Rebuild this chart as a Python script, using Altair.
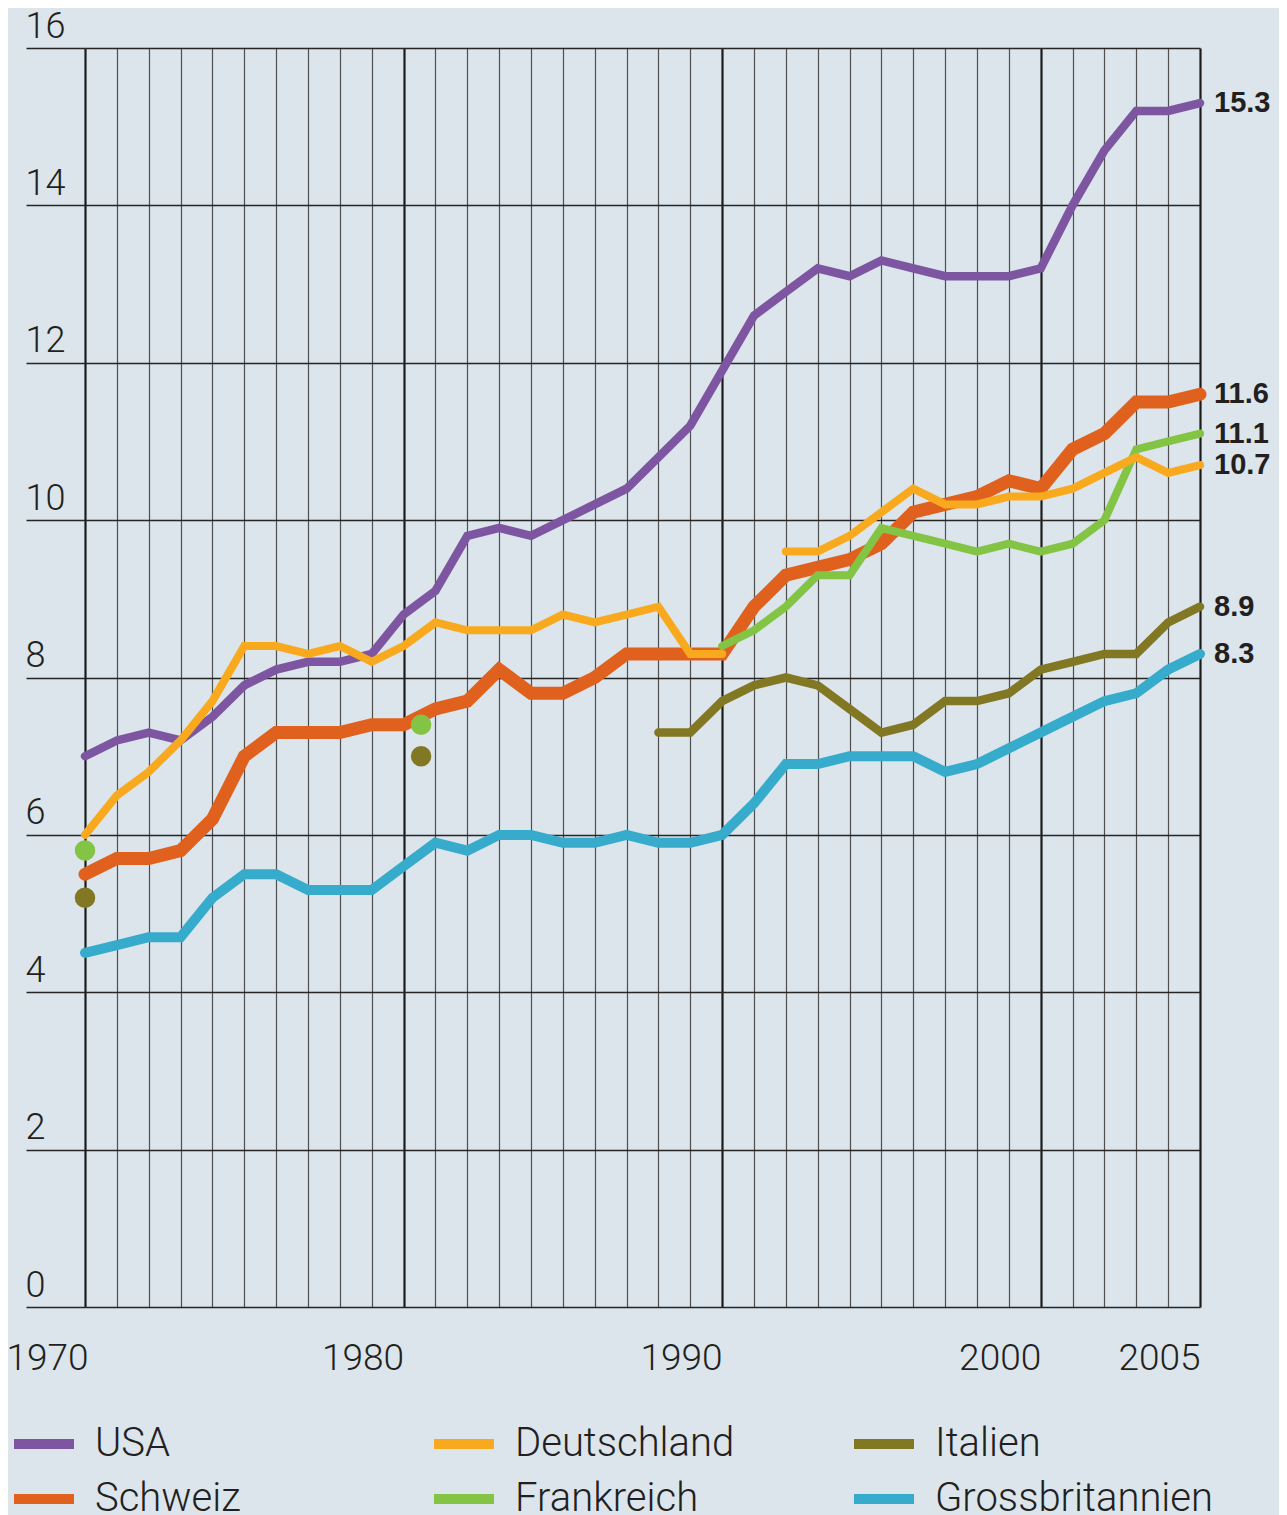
import altair as alt
import pandas as pd

# ---------------- data ----------------
years = list(range(1970, 2006))
usa = [7.0, 7.2, 7.3, 7.2, 7.5, 7.9, 8.1, 8.2, 8.2, 8.3,
       8.8, 9.1, 9.8, 9.9, 9.8, 10.0, 10.2, 10.4, 10.8, 11.2,
       11.9, 12.6, 12.9, 13.2, 13.1, 13.3, 13.2, 13.1, 13.1, 13.1,
       13.2, 14.0, 14.7, 15.2, 15.2, 15.3]
schweiz = [5.5, 5.7, 5.7, 5.8, 6.2, 7.0, 7.3, 7.3, 7.3, 7.4,
           7.4, 7.6, 7.7, 8.1, 7.8, 7.8, 8.0, 8.3, 8.3, 8.3,
           8.3, 8.9, 9.3, 9.4, 9.5, 9.7, 10.1, 10.2, 10.3, 10.5,
           10.4, 10.9, 11.1, 11.5, 11.5, 11.6]
grossbritannien = [4.5, 4.6, 4.7, 4.7, 5.2, 5.5, 5.5, 5.3, 5.3, 5.3,
                   5.6, 5.9, 5.8, 6.0, 6.0, 5.9, 5.9, 6.0, 5.9, 5.9,
                   6.0, 6.4, 6.9, 6.9, 7.0, 7.0, 7.0, 6.8, 6.9, 7.1,
                   7.3, 7.5, 7.7, 7.8, 8.1, 8.3]
deutschland_west_years = list(range(1970, 1991))
deutschland_west = [6.0, 6.5, 6.8, 7.2, 7.7, 8.4, 8.4, 8.3, 8.4, 8.2,
                    8.4, 8.7, 8.6, 8.6, 8.6, 8.8, 8.7, 8.8, 8.9, 8.3, 8.3]
deutschland_years = list(range(1992, 2006))
deutschland = [9.6, 9.6, 9.8, 10.1, 10.4, 10.2, 10.2, 10.3, 10.3, 10.4,
               10.6, 10.8, 10.6, 10.7]
frankreich_years = list(range(1990, 2006))
frankreich = [8.4, 8.6, 8.9, 9.3, 9.3, 9.9, 9.8, 9.7, 9.6, 9.7,
              9.6, 9.7, 10.0, 10.9, 11.0, 11.1]
italien_years = list(range(1988, 2006))
italien = [7.3, 7.3, 7.7, 7.9, 8.0, 7.9, 7.6, 7.3, 7.4, 7.7,
           7.7, 7.8, 8.1, 8.2, 8.3, 8.3, 8.7, 8.9]
dot_years = [1970, 1980.55]
frankreich_dots = [5.8, 7.4]
italien_dots = [5.2, 7.0]

# legend is filled column by column (2 rows x 3 columns)
legend_order = ["USA", "Schweiz", "Deutschland", "Frankreich", "Italien", "Grossbritannien"]
draw_order = ["USA", "Schweiz", "Frankreich", "Deutschland", "Italien", "Grossbritannien"]
colors = {
    "USA": "#7d55a1",
    "Schweiz": "#e0611e",
    "Deutschland": "#f9a91d",
    "Frankreich": "#84c444",
    "Italien": "#827723",
    "Grossbritannien": "#37abcc",
}
widths = {"USA": 8.5, "Schweiz": 13, "Deutschland": 8, "Frankreich": 8,
          "Italien": 8.5, "Grossbritannien": 10}

# ---------------- tables ----------------
rows = []
def add(country, seg, ys, vs):
    for y, v in zip(ys, vs):
        rows.append({"country": country, "seg": seg, "year": y, "value": v})

add("USA", "a", years, usa)
add("Schweiz", "a", years, schweiz)
add("Grossbritannien", "a", years, grossbritannien)
add("Deutschland", "west", deutschland_west_years, deutschland_west)
add("Deutschland", "gesamt", deutschland_years, deutschland)
add("Frankreich", "a", frankreich_years, frankreich)
add("Italien", "a", italien_years, italien)
df = pd.DataFrame(rows)

end_rows = []
for c in draw_order:
    sub = df[df.country == c].sort_values("year").iloc[-1]
    end_rows.append({"country": c, "year": sub.year, "value": sub.value,
                     "label": f"{sub.value:.1f}"})
df_end = pd.DataFrame(end_rows)

dots = pd.DataFrame(
    [{"country": "Frankreich", "year": y, "value": v} for y, v in zip(dot_years, frankreich_dots)]
    + [{"country": "Italien", "year": y, "value": v} for y, v in zip(dot_years, italien_dots)]
)

# ---------------- encodings ----------------
TXT = "#231f20"
FONT = "Roboto"
major = "datum.value % 10 == 0 || datum.value == 2005"

x_axis = alt.Axis(
    values=years, grid=True,
    gridColor={"condition": {"test": major, "value": "#1c1c1c"}, "value": "#4f4f4f"},
    gridWidth={"condition": {"test": major, "value": 2.2}, "value": 1.2},
    ticks=False, tickSize=0, domain=False,
    labelExpr=f"({major}) ? format(datum.value, 'd') : ''",
    labelAlign="right", labelBaseline="top", labelPadding=33,
    labelOffset={"condition": {"test": "datum.value == 1970", "value": 3}, "value": 0},
    labelFont=FONT, labelFontWeight=300, labelFontSize=37, labelColor=TXT,
    labelOverlap=False, labelFlush=False, title=None,
)
y_axis = alt.Axis(
    values=list(range(0, 17, 2)), grid=True, gridColor="#262626", gridWidth=1.4,
    ticks=True, tickSize=59, tickColor="#262626", tickWidth=1.4, domain=False,
    labelAlign="left", labelBaseline="alphabetic", labelOffset=-11, labelPadding=1,
    labelFont=FONT, labelFontWeight=300, labelFontSize=36, labelColor=TXT,
    title=None,
)
x_enc = alt.X("year:Q", scale=alt.Scale(domain=[1970, 2005], nice=False, zero=False), axis=x_axis)
y_enc = alt.Y("value:Q", scale=alt.Scale(domain=[0, 16], nice=False, zero=True), axis=y_axis)

legend = alt.Legend(
    orient="none", legendX=-76, legendY=1361, columns=3, title=None,
    symbolType="stroke", symbolSize=3600, symbolStrokeWidth=10,
    labelFont=FONT, labelFontWeight=300, labelFontSize=40, labelColor=TXT,
    labelOffset=16, columnPadding=40, rowPadding=-6, gridAlign="all",
    labelLimit=500, padding=0,
)
color_enc = alt.Color(
    "country:N",
    scale=alt.Scale(domain=legend_order, range=[colors[c] for c in legend_order]),
    legend=legend,
)

layers = []
for c in draw_order:
    layers.append(
        alt.Chart(df).transform_filter(alt.datum.country == c)
        .mark_line(strokeWidth=widths[c], strokeCap="round", strokeJoin="miter")
        .encode(x=x_enc, y=y_enc, color=color_enc, detail="seg:N")
    )
for c in ["Frankreich", "Italien"]:
    layers.append(
        alt.Chart(dots).transform_filter(alt.datum.country == c)
        .mark_circle(size=420, opacity=1, color=colors[c])
        .encode(x=x_enc, y=y_enc)
    )
layers.append(
    alt.Chart(df_end).mark_text(align="left", baseline="middle", dx=14,
                                font="Liberation Sans", fontWeight="bold",
                                fontSize=29, color=TXT)
    .encode(x=x_enc, y=y_enc, text="label:N")
)

chart = (
    alt.layer(*layers)
    .properties(
        width=1115, height=1259,
        autosize=alt.AutoSizeParams(type="none"),
        padding={"left": 77, "top": 40, "right": 79, "bottom": 230},
        background="#dbe5eb",
    )
    .configure_view(strokeWidth=0)
)

chart.save("out.html", embed_options={"renderer": "svg", "actions": False})
